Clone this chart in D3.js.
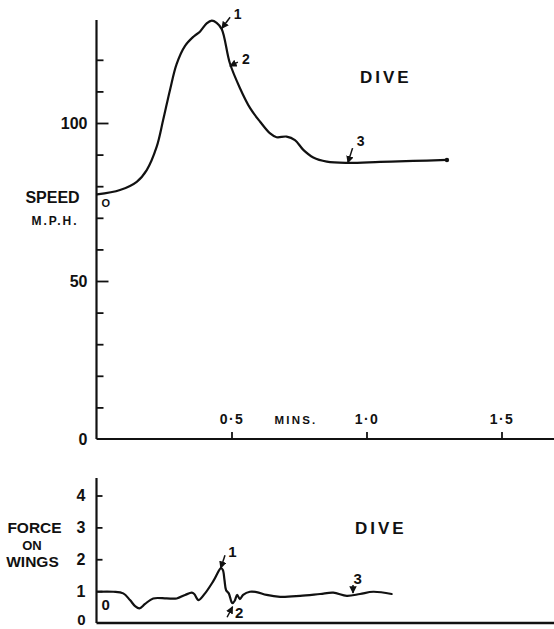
<!DOCTYPE html>
<html>
<head>
<meta charset="utf-8">
<script src="https://cdn.jsdelivr.net/npm/d3@7"></script>
<style>
  html, body { margin: 0; padding: 0; background: #ffffff; }
  svg { display: block; }
  text { font-family: "Liberation Sans", Arial, sans-serif; font-weight: bold; fill: #111; }
</style>
</head>
<body>
<script>
// ---------- DATA ----------
const speedTime   = [0.002, 0.087, 0.149, 0.186, 0.223, 0.247, 0.272, 0.297, 0.328, 0.359, 0.383, 0.408, 0.427, 0.445, 0.464, 0.494, 0.531, 0.569, 0.606, 0.643, 0.667, 0.704, 0.735, 0.766, 0.803, 0.853, 0.927, 1.05, 1.173, 1.298];
const speedValues = [77.4, 78.8, 81.4, 85.1, 92.5, 101, 110.4, 118.7, 124.4, 127.3, 128.9, 131.5, 132.4, 131.7, 129.7, 118.9, 111.1, 104.7, 100.4, 96.7, 95.5, 95.7, 94.6, 91.5, 89.1, 87.8, 87.4, 87.7, 88.0, 88.3];

const forceTime   = [0.004, 0.062, 0.099, 0.124, 0.143, 0.159, 0.18, 0.21, 0.26, 0.297, 0.328, 0.353, 0.362, 0.378, 0.402, 0.433, 0.461, 0.468, 0.474, 0.48, 0.49, 0.5, 0.504, 0.512, 0.521, 0.531, 0.543, 0.568, 0.593, 0.63, 0.68, 0.754, 0.828, 0.877, 0.927, 0.976, 1.025, 1.093];
const forceValues = [0.98, 0.98, 0.93, 0.72, 0.53, 0.46, 0.60, 0.77, 0.77, 0.77, 0.88, 0.95, 0.91, 0.72, 0.93, 1.32, 1.72, 1.66, 1.35, 1.03, 0.93, 0.66, 0.62, 0.70, 0.88, 0.75, 0.88, 0.98, 0.97, 0.88, 0.82, 0.85, 0.91, 0.95, 0.85, 0.91, 0.98, 0.91];

const speedMinorTicks = [10, 20, 30, 40, 60, 70, 80, 90, 110, 120];
const speedMajorTicks = [0, 50, 100];
const timeTicks = [0.5, 1.0, 1.5];
const timeTickLabels = ["0·5", "1·0", "1·5"];
const forceTicks = [1, 2, 3, 4];
const forceTickLabels = [0, 1, 2, 3, 4];

const markerLabels = ["1", "2", "3"];
const speedMarkerTime  = [0.464, 0.494, 0.931];
const speedMarkerValue = [129.9, 118.0, 87.4];
const forceMarkerTime  = [0.46, 0.504, 0.95];
const forceMarkerValue = [1.72, 0.51, 0.94];

// ---------- LAYOUT ----------
const W = 554, H = 629;
const svg = d3.select("body").append("svg").attr("width", W).attr("height", H);

svg.append("defs").append("marker")
  .attr("id", "ah").attr("viewBox", "0 0 10 10").attr("refX", 9).attr("refY", 5)
  .attr("markerWidth", 5).attr("markerHeight", 5).attr("orient", "auto")
  .append("path").attr("d", "M0,0 L10,5 L0,10 Z").attr("fill", "#111");

const x = d3.scaleLinear().domain([0, 1.5]).range([96.5, 501.5]);
const ySpeed = d3.scaleLinear().domain([0, 100]).range([439, 123]);
const yForce = d3.scaleLinear().domain([0, 4]).range([623, 495.5]);

const ink = "#111";
const FONT = "Liberation Sans, Arial, sans-serif";

// ---------- TOP CHART ----------
const gTop = svg.append("g");
gTop.append("line").attr("x1", x(0)).attr("x2", x(0)).attr("y1", ySpeed(132.6)).attr("y2", ySpeed(0))
  .attr("stroke", ink).attr("stroke-width", 2.2);
const gMinor = gTop.append("g").attr("transform", `translate(${x(0)},0)`)
  .call(d3.axisRight(ySpeed).tickValues(speedMinorTicks).tickSize(7).tickFormat(""));
const gMajor = gTop.append("g").attr("transform", `translate(${x(0)},0)`)
  .call(d3.axisRight(ySpeed).tickValues([50, 100]).tickSize(12).tickFormat(""));
[gMinor, gMajor].forEach(g => { g.select(".domain").remove(); g.selectAll("line").attr("stroke", ink).attr("stroke-width", 1.8); });
const gLab = gTop.append("g").attr("transform", `translate(${x(0)},0)`)
  .call(d3.axisLeft(ySpeed).tickValues(speedMajorTicks).tickSize(0).tickPadding(9).tickFormat(d3.format("d")));
gLab.select(".domain").remove();
gLab.selectAll("text").attr("font-size", 16).attr("font-family", FONT).attr("font-weight", "bold").attr("fill", ink);

gTop.append("line").attr("x1", x(0)).attr("x2", W).attr("y1", ySpeed(0)).attr("y2", ySpeed(0))
  .attr("stroke", ink).attr("stroke-width", 2.2);
const gX = gTop.append("g").attr("transform", `translate(0,${ySpeed(0)})`)
  .call(d3.axisTop(x).tickValues(timeTicks).tickSize(7).tickPadding(8).tickFormat((d, i) => timeTickLabels[i]));
gX.select(".domain").remove();
gX.selectAll("line").attr("stroke", ink).attr("stroke-width", 1.8);
gX.selectAll("text").attr("font-size", 14).attr("font-family", FONT).attr("font-weight", "bold").attr("fill", ink).attr("letter-spacing", 1.5);

gTop.append("text").attr("x", 296).attr("y", 424).attr("text-anchor", "middle").attr("font-size", 11.5).attr("letter-spacing", 2.2).text("MINS.");
gTop.append("text").attr("x", 52.5).attr("y", 203).attr("text-anchor", "middle").attr("font-size", 16).text("SPEED");
gTop.append("text").attr("x", 55).attr("y", 225).attr("text-anchor", "middle").attr("font-size", 12).attr("letter-spacing", 2).text("M.P.H.");
gTop.append("text").attr("x", 360).attr("y", 83).attr("font-size", 17).attr("letter-spacing", 3).text("DIVE");
gTop.append("text").attr("x", 101.5).attr("y", 207).attr("font-size", 11).text("O");

const speedPts = speedTime.map((t, i) => [t, speedValues[i]]);
const lineS = d3.line().x(d => x(d[0])).y(d => ySpeed(d[1])).curve(d3.curveCatmullRom.alpha(0.5));
gTop.append("path").attr("d", lineS(speedPts)).attr("fill", "none").attr("stroke", ink).attr("stroke-width", 2.2).attr("stroke-linecap", "round");
const last = speedPts[speedPts.length - 1];
gTop.append("circle").attr("cx", x(last[0])).attr("cy", ySpeed(last[1])).attr("r", 2.2).attr("fill", ink);

const topOff = [[8.3, -11.3, 12, -10], [8, -4, 12, -2], [4.7, -14.7, 9, -17]];
speedMarkerTime.forEach((t, i) => {
  const ax = x(t), ay = ySpeed(speedMarkerValue[i]);
  const o = topOff[i];
  gTop.append("line").attr("x1", ax + o[0]).attr("y1", ay + o[1]).attr("x2", ax).attr("y2", ay)
    .attr("stroke", ink).attr("stroke-width", 1.5).attr("marker-end", "url(#ah)");
  gTop.append("text").attr("x", ax + o[2]).attr("y", ay + o[3]).attr("font-size", 14).text(markerLabels[i]);
});

// ---------- BOTTOM CHART ----------
const gBot = svg.append("g");
gBot.append("line").attr("x1", x(0)).attr("x2", x(0)).attr("y1", yForce(4.55)).attr("y2", yForce(0))
  .attr("stroke", ink).attr("stroke-width", 2.2);
gBot.append("line").attr("x1", x(0)).attr("x2", W).attr("y1", yForce(0)).attr("y2", yForce(0))
  .attr("stroke", ink).attr("stroke-width", 2.4);
const gFT = gBot.append("g").attr("transform", `translate(${x(0)},0)`)
  .call(d3.axisRight(yForce).tickValues(forceTicks).tickSize(6).tickFormat(""));
gFT.select(".domain").remove();
gFT.selectAll("line").attr("stroke", ink).attr("stroke-width", 1.8);
const gFL = gBot.append("g").attr("transform", `translate(${x(0)},0)`)
  .call(d3.axisLeft(yForce).tickValues(forceTickLabels).tickSize(0).tickPadding(11).tickFormat(d3.format("d")));
gFL.select(".domain").remove();
gFL.selectAll("text").attr("font-size", 16).attr("font-family", FONT).attr("font-weight", "bold").attr("fill", ink);
// keep the lowest label fully inside the page
gFL.selectAll("text").filter(d => d === 0).attr("font-size", 15).attr("dy", "0.12em");

gBot.append("text").attr("x", 34.5).attr("y", 533).attr("text-anchor", "middle").attr("font-size", 15.5).text("FORCE");
gBot.append("text").attr("x", 32).attr("y", 550).attr("text-anchor", "middle").attr("font-size", 13).text("ON");
gBot.append("text").attr("x", 32.5).attr("y", 567).attr("text-anchor", "middle").attr("font-size", 15.5).text("WINGS");
gBot.append("text").attr("x", 355).attr("y", 534).attr("font-size", 17).attr("letter-spacing", 3).text("DIVE");
gBot.append("text").attr("x", 101.5).attr("y", 610).attr("font-size", 15).text("0");

const forcePts = forceTime.map((t, i) => [t, forceValues[i]]);
const lineF = d3.line().x(d => x(d[0])).y(d => yForce(d[1])).curve(d3.curveCatmullRom.alpha(0.5));
gBot.append("path").attr("d", lineF(forcePts)).attr("fill", "none").attr("stroke", ink).attr("stroke-width", 2.2).attr("stroke-linecap", "round").attr("stroke-linejoin", "round");

const botOff = [[4.3, -13, 7.5, -11], [-5.5, 10.5, 2.5, 11.5], [0, -8, 0.5, -9]];
forceMarkerTime.forEach((t, i) => {
  const ax = x(t), ay = yForce(forceMarkerValue[i]);
  const o = botOff[i];
  gBot.append("line").attr("x1", ax + o[0]).attr("y1", ay + o[1]).attr("x2", ax).attr("y2", ay)
    .attr("stroke", ink).attr("stroke-width", 1.5).attr("marker-end", "url(#ah)");
  gBot.append("text").attr("x", ax + o[2]).attr("y", ay + o[3]).attr("font-size", 15).text(markerLabels[i]);
});
</script>
</body>
</html>
